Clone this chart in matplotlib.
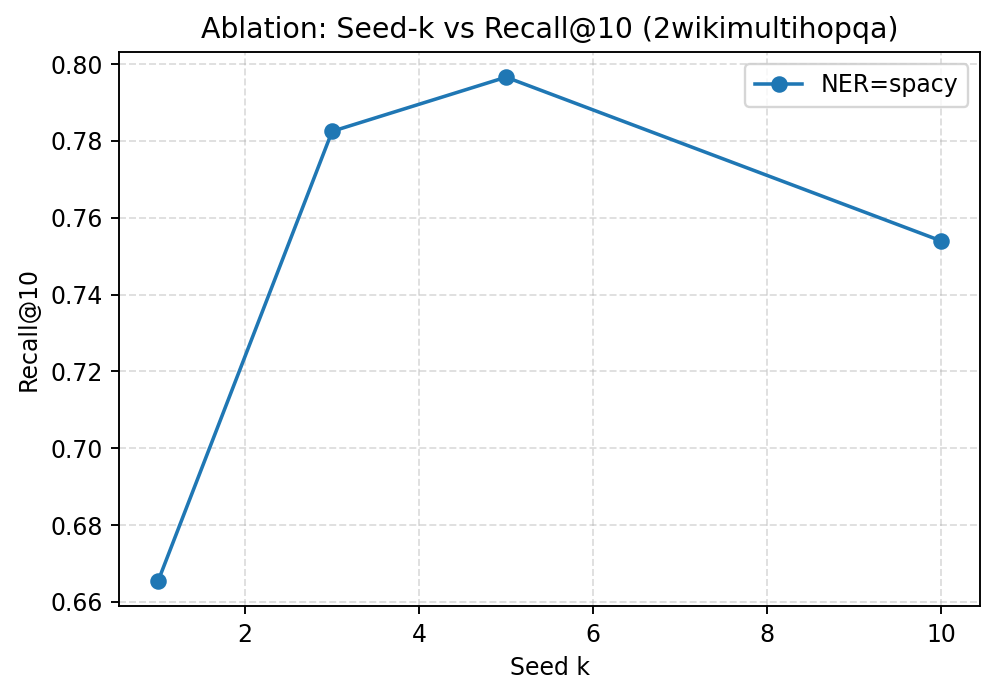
import matplotlib; matplotlib.use("Agg")
import matplotlib.pyplot as plt

SEED_K = [1, 3, 5, 10]
RECALL = [0.6655, 0.7825, 0.7966, 0.7540]
LABEL = "NER=spacy"

fig, ax = plt.subplots(figsize=(997 / 170, 695 / 170), dpi=170)
ax.plot(SEED_K, RECALL, "o-", color="#1f77b4", label=LABEL, lw=1.5, ms=6)
ax.set_xlabel("Seed k")
ax.set_ylabel("Recall@10")
ax.set_title("Ablation: Seed-k vs Recall@10 (2wikimultihopqa)")
ax.grid(True, ls="--", alpha=0.4)
ax.legend()
fig.subplots_adjust(left=0.1194, right=0.983, top=0.9252, bottom=0.128)
fig.savefig("out.png", dpi=170)
